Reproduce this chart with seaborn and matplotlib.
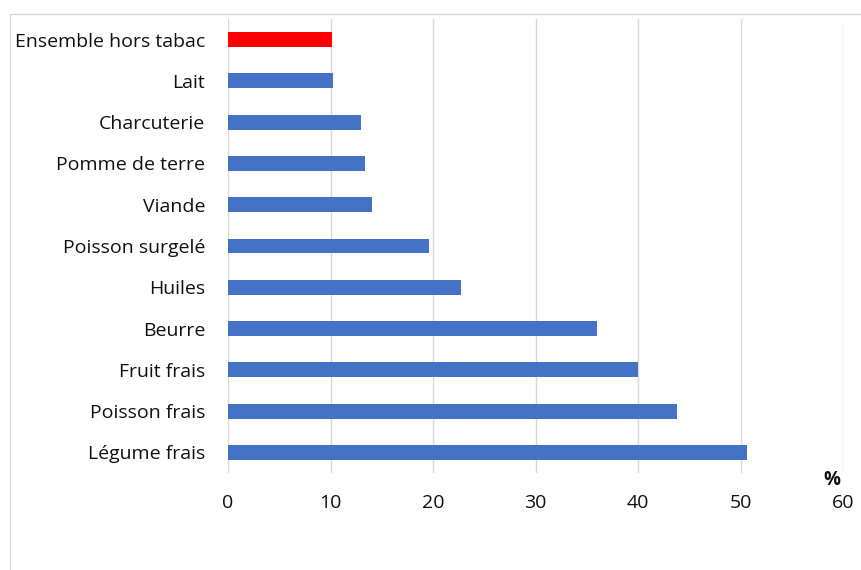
import matplotlib
matplotlib.use("Agg")
import matplotlib.pyplot as plt
from matplotlib.patches import Rectangle
import seaborn as sns
import pandas as pd

categories = ["Ensemble hors tabac", "Lait", "Charcuterie", "Pomme de terre", "Viande",
              "Poisson surgelé", "Huiles", "Beurre", "Fruit frais", "Poisson frais",
              "Légume frais"]
values = [10.1, 10.2, 13.0, 13.4, 14.0, 19.6, 22.7, 36.0, 40.0, 43.8, 50.6]
bar_colors = ["#FF0000"] + ["#4472C4"] * 10
x_ticks = [0, 10, 20, 30, 40, 50, 60]

sns.set_theme(style="white")
plt.rcParams["font.family"] = ["Open Sans", "DejaVu Sans"]

df = pd.DataFrame({"cat": categories, "val": values})

fig = plt.figure(figsize=(8.61, 5.70), dpi=100)
ax = fig.add_axes([228 / 861, 1 - 473 / 570, (843 - 228) / 861, (473 - 19) / 570])

sns.barplot(data=df, x="val", y="cat", hue="cat", palette=bar_colors, legend=False,
            width=0.36, ax=ax, saturation=1, edgecolor="none", zorder=3)

ax.set_xlim(0, 60)
ax.set_xticks(x_ticks)
ax.set_xticklabels([str(t) for t in x_ticks], fontsize=14, color="#111111")
ax.tick_params(axis="x", pad=15, length=0)
ax.tick_params(axis="y", pad=16.5, length=0, labelsize=14, labelcolor="#111111")
ax.set_xlabel("")
ax.set_ylabel("")
ax.grid(axis="x", color="#D9D9D9", linewidth=1, zorder=0)
ax.grid(axis="y", visible=False)
for s in ax.spines.values():
    s.set_visible(False)

ax.text(0.982, 0.007, "%", transform=ax.transAxes, fontsize=13.5,
        fontweight="bold", ha="center", va="top", color="#111111")

# light frame around the chart area
fig.patches.append(Rectangle((10 / 861, -0.05), 1.0, 1 - 14 / 570 + 0.05,
                             transform=fig.transFigure, fill=False,
                             edgecolor="#D9D9D9", linewidth=1, zorder=0))

fig.savefig("out.png", dpi=100)
